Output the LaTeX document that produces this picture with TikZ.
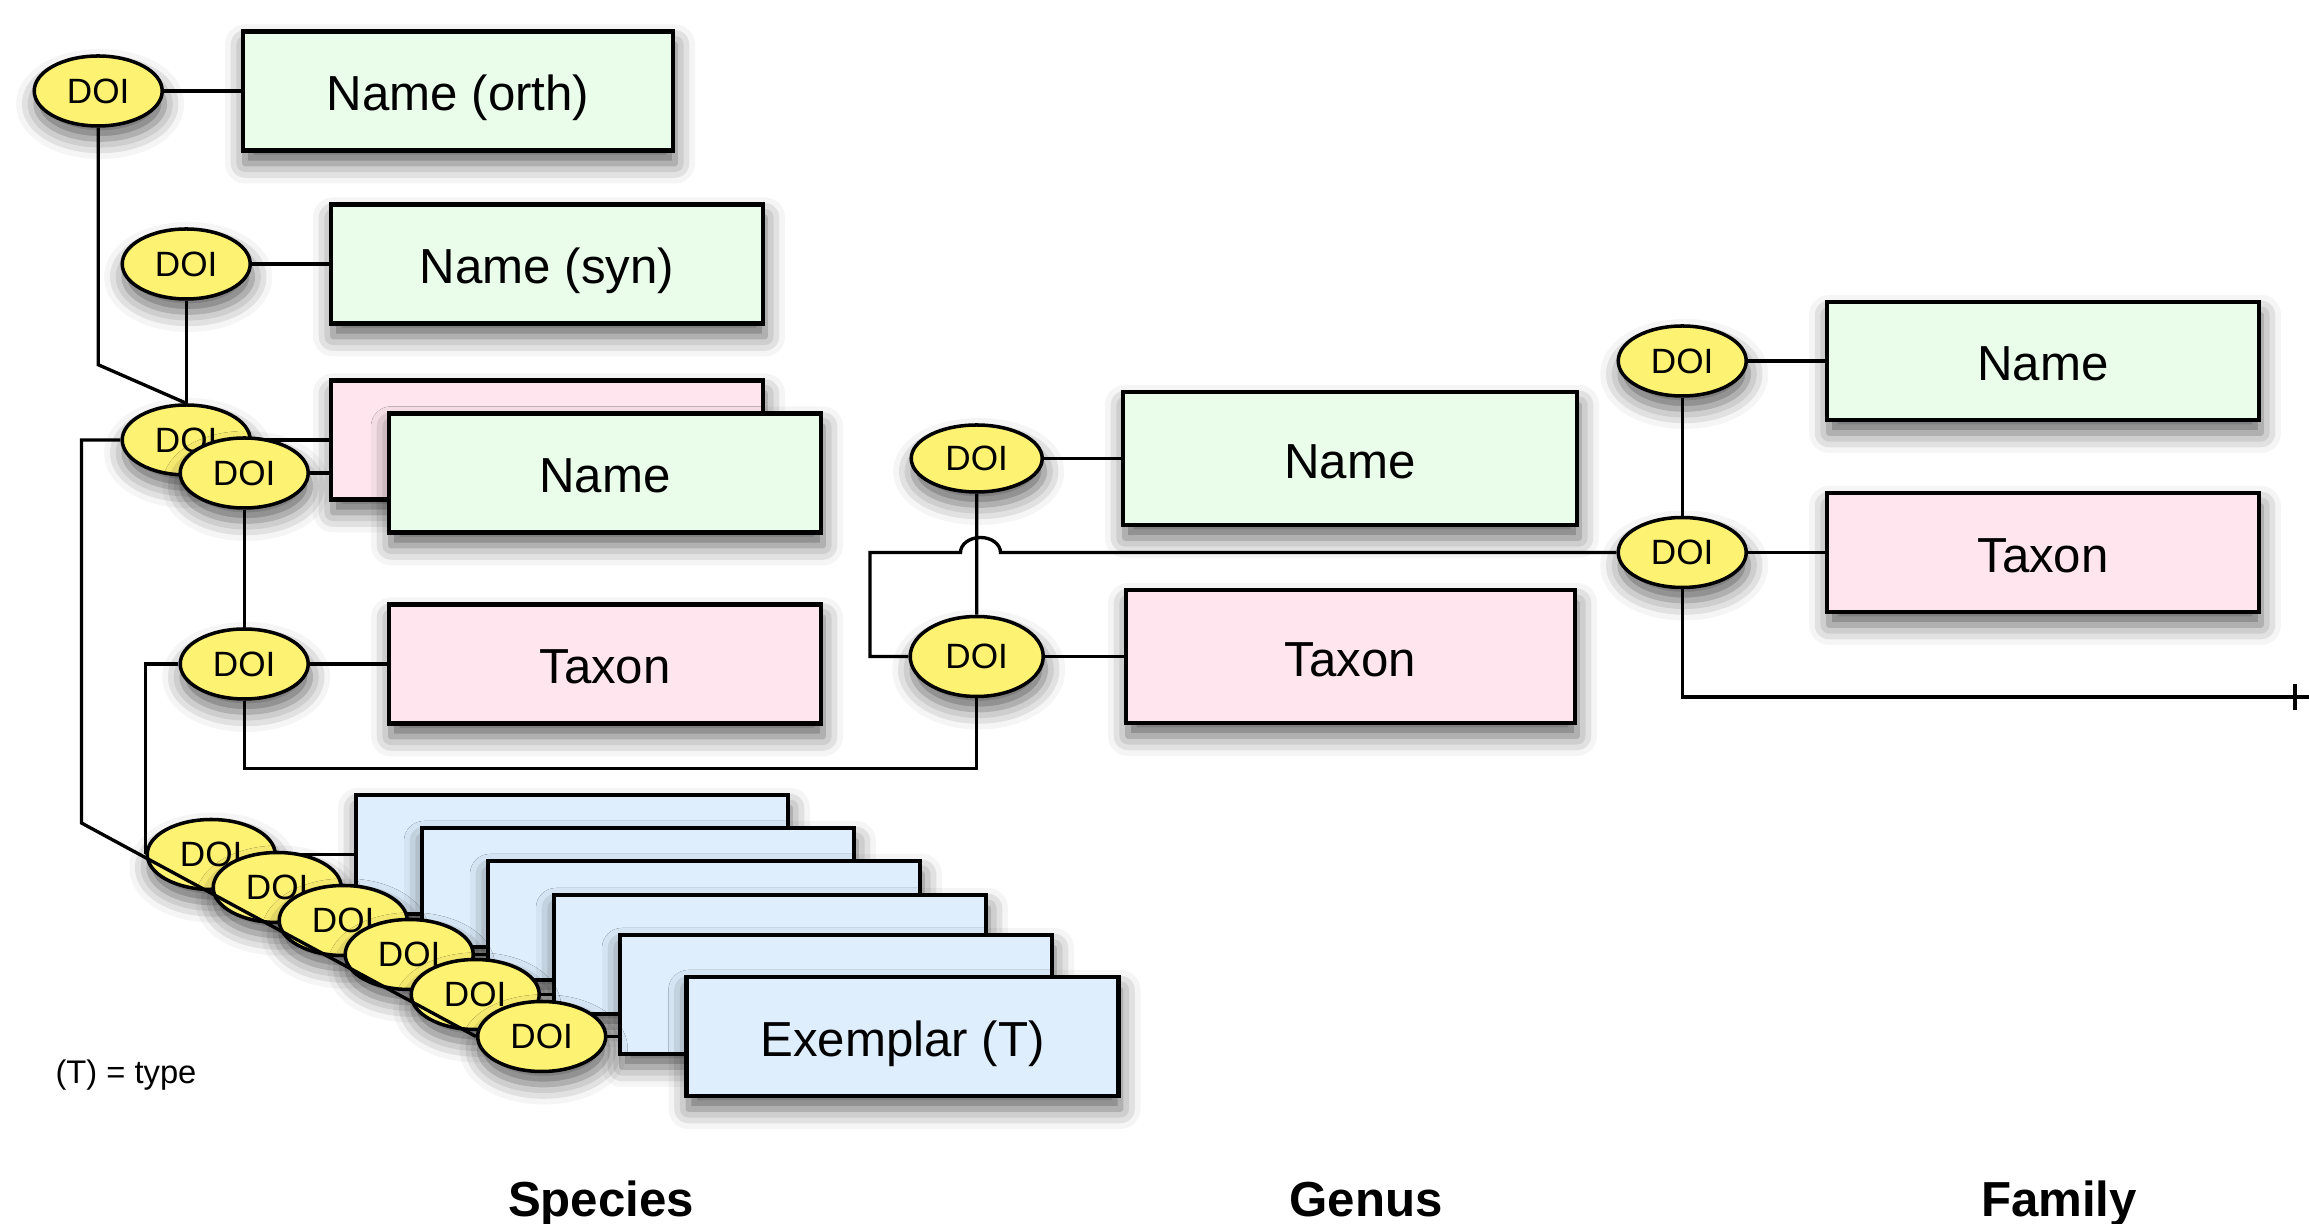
\documentclass[tikz,border=0pt]{standalone}
\usepackage{fontspec}
\setmainfont{Liberation Sans}
\usetikzlibrary{shapes.geometric}
\usetikzlibrary{positioning}
\usetikzlibrary{backgrounds}
\usetikzlibrary{shadows.blur}

\definecolor{doiyellow}{RGB}{254,242,115}
\definecolor{namegreen}{RGB}{234,252,234}
\definecolor{taxonpink}{RGB}{254,229,238}
\definecolor{exblue}{RGB}{222,238,253}

\tikzset{
    dropshade/.style={blur shadow={shadow xshift=0.02cm,shadow yshift=-0.13cm,shadow blur radius=0.2cm,shadow opacity=62}},
    doi/.style={ellipse,draw,line width=1pt,fill=doiyellow,inner sep=0pt,minimum width=1.28cm,minimum height=0.70cm,font=\fontsize{10}{12}\selectfont,dropshade},
    rec/.style={rectangle,draw,line width=1.15pt,minimum width=4.32cm,minimum height=1.19cm,text height=11.2pt,text depth=0pt,font=\fontsize{14}{16}\selectfont,dropshade},
    namebox/.style={rec,fill=namegreen},
    taxonbox/.style={rec,fill=taxonpink},
    exbox/.style={rec,fill=exblue},
    rank/.style={font=\fontsize{14}{16}\bfseries\selectfont,anchor=base},
    wire/.style={line width=0.95pt}
}

\begin{document}
\begin{tikzpicture}
                    \useasboundingbox (0,0) rectangle (23.09,12.24);
                    \begin{scope}[on background layer]
                        \fill[white] (0,0) rectangle (23.09,12.24);
                    \end{scope}
                    \fill[white,dropshade] (-4,-4) rectangle (-3,-3);

                    \node[namebox,minimum width=4.30cm] (orth) at (4.58,11.33) {Name (orth)};
                    \node[doi,left=0.77cm of orth] (dorth) {DOI};

                    \node[namebox] (syn) at (5.47,9.60) {Name (syn)};
                    \node[doi,left=0.77cm of syn] (dsyn) {DOI};

                    \node[taxonbox] (sptaxb) at (5.47,7.84) {};
                    \node[doi,left=0.77cm of sptaxb] (dtaxb) {DOI};
                    \node[namebox] (spname) at (6.05,7.51) {Name};
                    \node[doi,left=0.77cm of spname] (dname) {DOI};

                    \node[taxonbox] (sptaxon) at (6.05,5.60) {Taxon};
                    \node[doi,left=0.77cm of sptaxon] (dtaxon) {DOI};

                    \node[namebox,minimum width=4.54cm,minimum height=1.33cm] (gname) at (13.50,7.655) {Name};
                    \node[doi,minimum width=1.31cm,minimum height=0.67cm,left=0.77cm of gname] (dgname) {DOI};
                    \node[taxonbox,minimum width=4.49cm,minimum height=1.33cm] (gtaxon) at (13.505,5.675) {Taxon};
                    \node[doi,minimum width=1.33cm,minimum height=0.80cm,left=0.79cm of gtaxon] (dgtaxon) {DOI};

                    \node[namebox,minimum height=1.18cm] (fname) at (20.43,8.63) {Name};
                    \node[doi,left=0.77cm of fname] (dfname) {DOI};
                    \node[taxonbox] (ftaxon) at (20.43,6.715) {Taxon};
                    \node[doi,left=0.77cm of ftaxon] (dftaxon) {DOI};

                    \node[exbox] (ex1) at (5.72,3.695) {};
                    \node[doi,left=0.77cm of ex1] (dex1) {DOI};
                    \node[exbox] (ex2) at (6.38,3.365) {};
                    \node[doi,left=0.77cm of ex2] (dex2) {DOI};
                    \node[exbox] (ex3) at (7.04,3.035) {};
                    \node[doi,left=0.77cm of ex3] (dex3) {DOI};
                    \node[exbox] (ex4) at (7.70,2.695) {};
                    \node[doi,left=0.77cm of ex4] (dex4) {DOI};
                    \node[exbox] (ex5) at (8.36,2.295) {};
                    \node[doi,left=0.77cm of ex5] (dex5) {DOI};
                    \node[exbox] (ex6) at (9.025,1.875) {Exemplar (T)};
                    \node[doi,left=0.77cm of ex6] (dex6) {DOI};

                    \coordinate (fend) at (23.09,5.27);

                    \begin{scope}[on background layer]
                        \draw[wire] (dorth.east) -- (orth.west);
                        \draw[wire] (dsyn.east) -- (syn.west);
                        \draw[wire] (dtaxb.east) -- (sptaxb.west);
                        \draw[wire] (dname.east) -- (spname.west);
                        \draw[wire] (dtaxon.east) -- (sptaxon.west);
                        \draw[wire] (dgname.east) -- (gname.west);
                        \draw[wire] (dgtaxon.east) -- (gtaxon.west);
                        \draw[wire] (dfname.east) -- (fname.west);
                        \draw[wire] (dftaxon.east) -- (ftaxon.west);
                        \draw[wire] (dex1.east) -- (ex1.west);
                        \draw[wire] (dex2.east) -- (ex2.west);
                        \draw[wire] (dex3.east) -- (ex3.west);
                        \draw[wire] (dex4.east) -- (ex4.west);
                        \draw[wire] (dex5.east) -- (ex5.west);
                        \draw[wire] (dex6.east) -- (ex6.west);

                        \draw[wire] (dorth.south) -- ++(0,-2.37) -- (dtaxb.north);
                        \draw[wire] (dsyn.south) -- (dtaxb.north);
                        \draw[wire] (dname.south) -- (dtaxon.north);
                        \draw[wire] (dtaxon.west) -| (dex1.west);
                        \draw[wire] (dtaxon.south) -- ++(0,-0.68) -| (dgtaxon.south);
                        \draw[wire] (dgname.south) -- (dgtaxon.north);
                        \draw[wire] (dftaxon.west) -- (10.005,6.715) arc[start angle=0,end angle=180,x radius=0.2cm,y radius=0.15cm] -- (8.70,6.715) |- (dgtaxon.west);
                        \draw[wire] (dfname.south) -- (dftaxon.north);
                        \draw[wire] (dftaxon.south) |- (fend);
                        \draw[wire] ([xshift=-0.14cm]fend) ++(0,-0.13) -- ++(0,0.26);
                    \end{scope}

                    \draw[wire] (dtaxb.west) -- ++(-0.39,0) -- ++(0,-3.83) -- (dex6.west);

                    \node[font=\fontsize{9.3}{11}\selectfont,anchor=base] (typenote) at (1.26,1.40) {(T) = type};
                    \node[rank] (species) at (6.01,0.07) {Species};
                    \node[rank] (genus) at (13.66,0.07) {Genus};
                    \node[rank] (family) at (20.59,0.07) {Family};
                \end{tikzpicture}
\end{document}
